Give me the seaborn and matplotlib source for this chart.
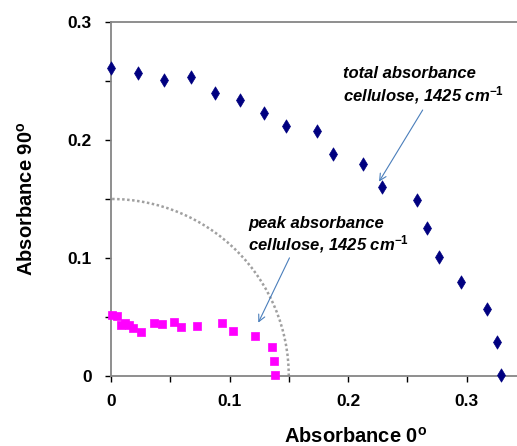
import matplotlib
matplotlib.use('Agg')
import matplotlib.pyplot as plt
import seaborn as sns
import pandas as pd
from matplotlib.patches import Arc
from matplotlib.ticker import MultipleLocator, FuncFormatter

sns.set_theme(style='white')
plt.rcParams['font.family'] = ['Liberation Sans', 'DejaVu Sans']
plt.rcParams['font.weight'] = 'bold'
plt.rcParams['text.color'] = 'black'
plt.rcParams['axes.labelcolor'] = 'black'
plt.rcParams['mathtext.fontset'] = 'custom'
plt.rcParams['mathtext.rm'] = 'Liberation Sans:bold'
plt.rcParams['mathtext.it'] = 'Liberation Sans:italic:bold'

# total absorbance cellulose (blue diamonds)
total_x = [0.000, 0.023, 0.0445, 0.0675, 0.0875, 0.109, 0.129, 0.148, 0.174, 0.1876,
           0.213, 0.229, 0.258, 0.267, 0.277, 0.295, 0.3175, 0.3255, 0.329]
total_y = [0.261, 0.257, 0.251, 0.253, 0.240, 0.234, 0.223, 0.212, 0.2076, 0.188,
           0.180, 0.160, 0.149, 0.125, 0.101, 0.080, 0.057, 0.029, 0.0006]

# peak absorbance cellulose (magenta squares)
peak_x = [0.0006, 0.0048, 0.0082, 0.0118, 0.0154, 0.0188, 0.025, 0.0365, 0.0428, 0.0532,
          0.0588, 0.0726, 0.094, 0.103, 0.1213, 0.1356, 0.1376, 0.1381]
peak_y = [0.0517, 0.0508, 0.0432, 0.0447, 0.0432, 0.0404, 0.0375, 0.0452, 0.0438, 0.046,
          0.0418, 0.0426, 0.0449, 0.0381, 0.0339, 0.0248, 0.013, 0.0008]

arc_radius = 0.15

x_label = r'Absorbance 0$^{\mathrm{o}}$'
y_label = r'Absorbance 90$^{\mathrm{o}}$'
total_text = 'total absorbance\ncellulose, 1425 cm$^{\\mathit{-1}}$'
peak_text = 'peak absorbance\ncellulose, 1425 cm$^{\\mathit{-1}}$'

df_total = pd.DataFrame({'x': total_x, 'y': total_y})
df_peak = pd.DataFrame({'x': peak_x, 'y': peak_y})

fig = plt.figure(figsize=(5.17, 4.46), dpi=100)
ax = fig.add_axes([0.2147, 0.157, 0.7853, 0.7937])

sns.scatterplot(data=df_total, x='x', y='y', marker='d', s=46, color='#000080',
                edgecolor='#000080', linewidth=0.5, ax=ax, clip_on=False, zorder=3)
sns.scatterplot(data=df_peak, x='x', y='y', marker='s', s=38, color='#FF00FF',
                edgecolor='#FF00FF', linewidth=0.5, ax=ax, clip_on=False, zorder=3)

arc = Arc((0, 0), 2 * arc_radius, 2 * arc_radius, theta1=0, theta2=90,
          color='#A0A0A0', lw=1.8, linestyle=(0, (1, 1)), zorder=2)
ax.add_patch(arc)

ax.set_xlim(0, 0.3426)
ax.set_ylim(0, 0.3)

ax.xaxis.set_major_locator(MultipleLocator(0.05))
ax.yaxis.set_major_locator(MultipleLocator(0.05))

def fmt(v, pos):
    k = round(v / 0.05)
    if k % 2:
        return ''
    if k == 0:
        return '0'
    return f'{v:.1f}'

ax.xaxis.set_major_formatter(FuncFormatter(fmt))
ax.yaxis.set_major_formatter(FuncFormatter(fmt))

ax.tick_params(axis='both', which='major', direction='out', length=4, width=1,
               color='black', labelcolor='black', labelsize=12.5, bottom=True, left=True)
ax.tick_params(axis='x', pad=9)
ax.tick_params(axis='y', pad=10)

for side in ['left', 'bottom', 'top']:
    ax.spines[side].set_color('#868686')
    ax.spines[side].set_linewidth(1.3)
ax.spines['right'].set_visible(False)

ax.set_xlabel(x_label, fontsize=14.5, fontweight='bold')
ax.set_ylabel(y_label, fontsize=14.5, fontweight='bold')
ax.xaxis.set_label_coords(0.603, -0.172)
ax.yaxis.set_label_coords(-0.207, 0.5)
ax.xaxis.label.set_va('center')
ax.yaxis.label.set_va('center')

ax.text(0.1958, 0.2458, total_text, fontsize=12, fontstyle='italic', fontweight='bold',
        ha='left', va='center', linespacing=1.15)
ax.text(0.1159, 0.119, peak_text, fontsize=12, fontstyle='italic', fontweight='bold',
        ha='left', va='center', linespacing=1.15)

arrow_props = dict(arrowstyle='->', color='#4A7EBB', lw=0.8, shrinkA=0, shrinkB=0,
                   mutation_scale=12)
ax.annotate('', xy=(0.2262, 0.1647), xytext=(0.263, 0.2254), arrowprops=arrow_props)
ax.annotate('', xy=(0.1243, 0.0452), xytext=(0.1506, 0.1001), arrowprops=arrow_props)

fig.savefig('out.png', dpi=100)
